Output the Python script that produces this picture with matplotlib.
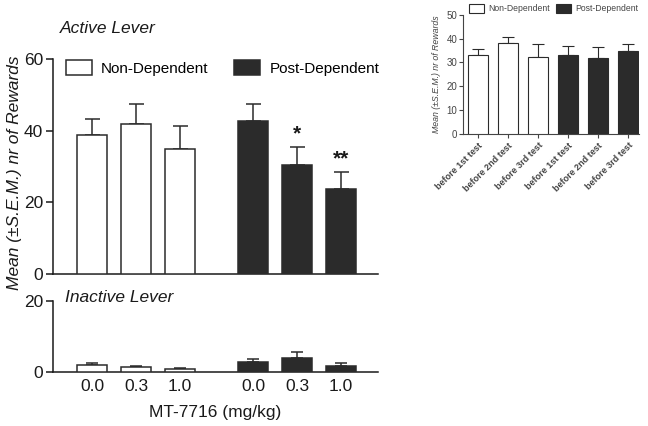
import numpy as np
import matplotlib
matplotlib.use("Agg")
import matplotlib.pyplot as plt
from matplotlib.patches import Patch

plt.rcParams['font.family'] = ['Liberation Sans', 'DejaVu Sans']

# dose groups
doses = ['0.0', '0.3', '1.0']
groups = ['Non-Dependent', 'Post-Dependent']

# active lever
active_nd_mean = [38.7, 41.9, 35.0]
active_nd_sem = [4.5, 5.5, 6.2]
active_pd_mean = [42.8, 30.3, 23.8]
active_pd_sem = [4.7, 5.1, 4.6]
active_pd_stars = ['', '*', '**']

# inactive lever
inactive_nd_mean = [2.0, 1.5, 0.9]
inactive_nd_sem = [0.6, 0.4, 0.3]
inactive_pd_mean = [3.0, 4.0, 1.8]
inactive_pd_sem = [0.7, 1.7, 0.7]

# inset: baseline before each test
inset_labels = ['before 1st test', 'before 2nd test', 'before 3rd test',
                'before 1st test', 'before 2nd test', 'before 3rd test']
inset_mean = [32.9, 38.0, 32.4, 33.1, 31.7, 34.7]
inset_sem = [2.7, 2.5, 5.2, 3.6, 4.6, 3.0]
inset_group = [0, 0, 0, 1, 1, 1]

DARK = '#2b2b2b'
TXT = '#1a1a1a'
face = ['white', DARK]

fig = plt.figure(figsize=(6.48, 4.26), dpi=100)

pos_nd = np.array([0, 1, 2])
pos_pd = pos_nd + 3.66
width = 0.68


def draw_bars(ax, x, mean, sem, fc, lw=1.1, capsize=5.4):
    ax.bar(x, mean, width, color=fc, edgecolor=DARK, linewidth=lw, zorder=3)
    ax.errorbar(x, mean, yerr=[np.zeros(len(sem)), sem], fmt='none',
                ecolor=DARK, elinewidth=lw, capsize=capsize, capthick=lw, zorder=2)


def style_main(ax):
    for s in ['top', 'right']:
        ax.spines[s].set_visible(False)
    for s in ['left', 'bottom']:
        ax.spines[s].set_linewidth(1.1)
        ax.spines[s].set_color(TXT)
    ax.tick_params(axis='y', length=5, width=1.1, labelsize=12.5, colors=TXT, pad=2)
    ax.set_xlim(-0.886, 6.5)


# ---- active lever
ax1 = fig.add_axes([0.0818, 0.357, 0.5015, 0.5047])
draw_bars(ax1, pos_nd, active_nd_mean, active_nd_sem, face[0])
draw_bars(ax1, pos_pd, active_pd_mean, active_pd_sem, face[1])
for x, m, e, st in zip(pos_pd, active_pd_mean, active_pd_sem, active_pd_stars):
    if st:
        ax1.text(x, m + e + 1.0, st, ha='center', va='bottom', fontsize=15,
                 fontweight='bold', color=TXT)
ax1.set_ylim(0, 60)
ax1.set_yticks([0, 20, 40, 60])
ax1.set_xticks([])
style_main(ax1)
handles = [Patch(facecolor=f, edgecolor=DARK, linewidth=1.1) for f in face]
ax1.legend(handles, groups, ncol=2, loc='upper left', bbox_to_anchor=(0.02, 1.022),
           frameon=False, fontsize=11, handlelength=1.7, handleheight=1.1,
           handletextpad=0.6, columnspacing=1.7, borderaxespad=0)
fig.text(60 / 648, 1 - 33 / 426, 'Active Lever', fontsize=12.5, style='italic',
         color=TXT, va='baseline')

# ---- inactive lever
ax2 = fig.add_axes([0.0818, 0.126, 0.5015, 0.168])
draw_bars(ax2, pos_nd, inactive_nd_mean, inactive_nd_sem, face[0], capsize=4)
draw_bars(ax2, pos_pd, inactive_pd_mean, inactive_pd_sem, face[1], capsize=4)
ax2.set_ylim(0, 20)
ax2.set_yticks([0, 20])
ax2.set_xticks(np.concatenate([pos_nd, pos_pd]))
ax2.set_xticklabels(doses + doses)
style_main(ax2)
ax2.tick_params(axis='x', length=0, labelsize=12.5, colors=TXT, pad=5)
ax2.set_xlabel('MT-7716 (mg/kg)', fontsize=12.5, color=TXT, labelpad=8)
fig.text(65 / 648, 1 - 302 / 426, 'Inactive Lever', fontsize=12.5, style='italic',
         color=TXT, va='baseline')

fig.text(0.023, 0.595, 'Mean (\u00b1S.E.M.) nr of Rewards', rotation=90, fontsize=12.5,
         style='italic', color=TXT, ha='center', va='center')

# ---- inset
GR = '#444444'
ax3 = fig.add_axes([0.7145, 0.686, 0.2715, 0.2795])
xi = np.arange(len(inset_mean))
fcs = [face[g] for g in inset_group]
ax3.bar(xi, inset_mean, 0.67, color=fcs, edgecolor=DARK, linewidth=0.8, zorder=3)
ax3.errorbar(xi, inset_mean, yerr=[np.zeros(len(inset_sem)), inset_sem], fmt='none',
             ecolor=DARK, elinewidth=0.8, capsize=4, capthick=0.8, zorder=2)
ax3.set_xlim(-0.5, 5.35)
ax3.set_ylim(0, 50)
ax3.set_yticks([0, 10, 20, 30, 40, 50])
ax3.set_xticks(xi)
ax3.set_xticklabels(inset_labels, rotation=45, ha='right', rotation_mode='anchor',
                    fontsize=6.5, fontweight='bold', color=GR)
for s in ['top', 'right']:
    ax3.spines[s].set_visible(False)
for s in ['left', 'bottom']:
    ax3.spines[s].set_linewidth(0.8)
    ax3.spines[s].set_color(GR)
ax3.tick_params(axis='y', length=3, width=0.8, labelsize=7, colors=GR, pad=1)
ax3.tick_params(axis='x', length=3, width=0.8, colors=GR, pad=2)
ax3.set_ylabel('Mean (\u00b1S.E.M.) nr of Rewards', fontsize=6.3, style='italic',
               color=GR, labelpad=4)
handles3 = [Patch(facecolor=f, edgecolor=DARK, linewidth=0.8) for f in face]
ax3.legend(handles3, groups, ncol=2, loc='lower left', bbox_to_anchor=(0.012, 0.985),
           frameon=False, fontsize=6.2, handlelength=1.75, handleheight=1.2,
           handletextpad=0.5, columnspacing=0.7, borderaxespad=0, labelcolor=GR)

fig.savefig('out.png', dpi=100)
